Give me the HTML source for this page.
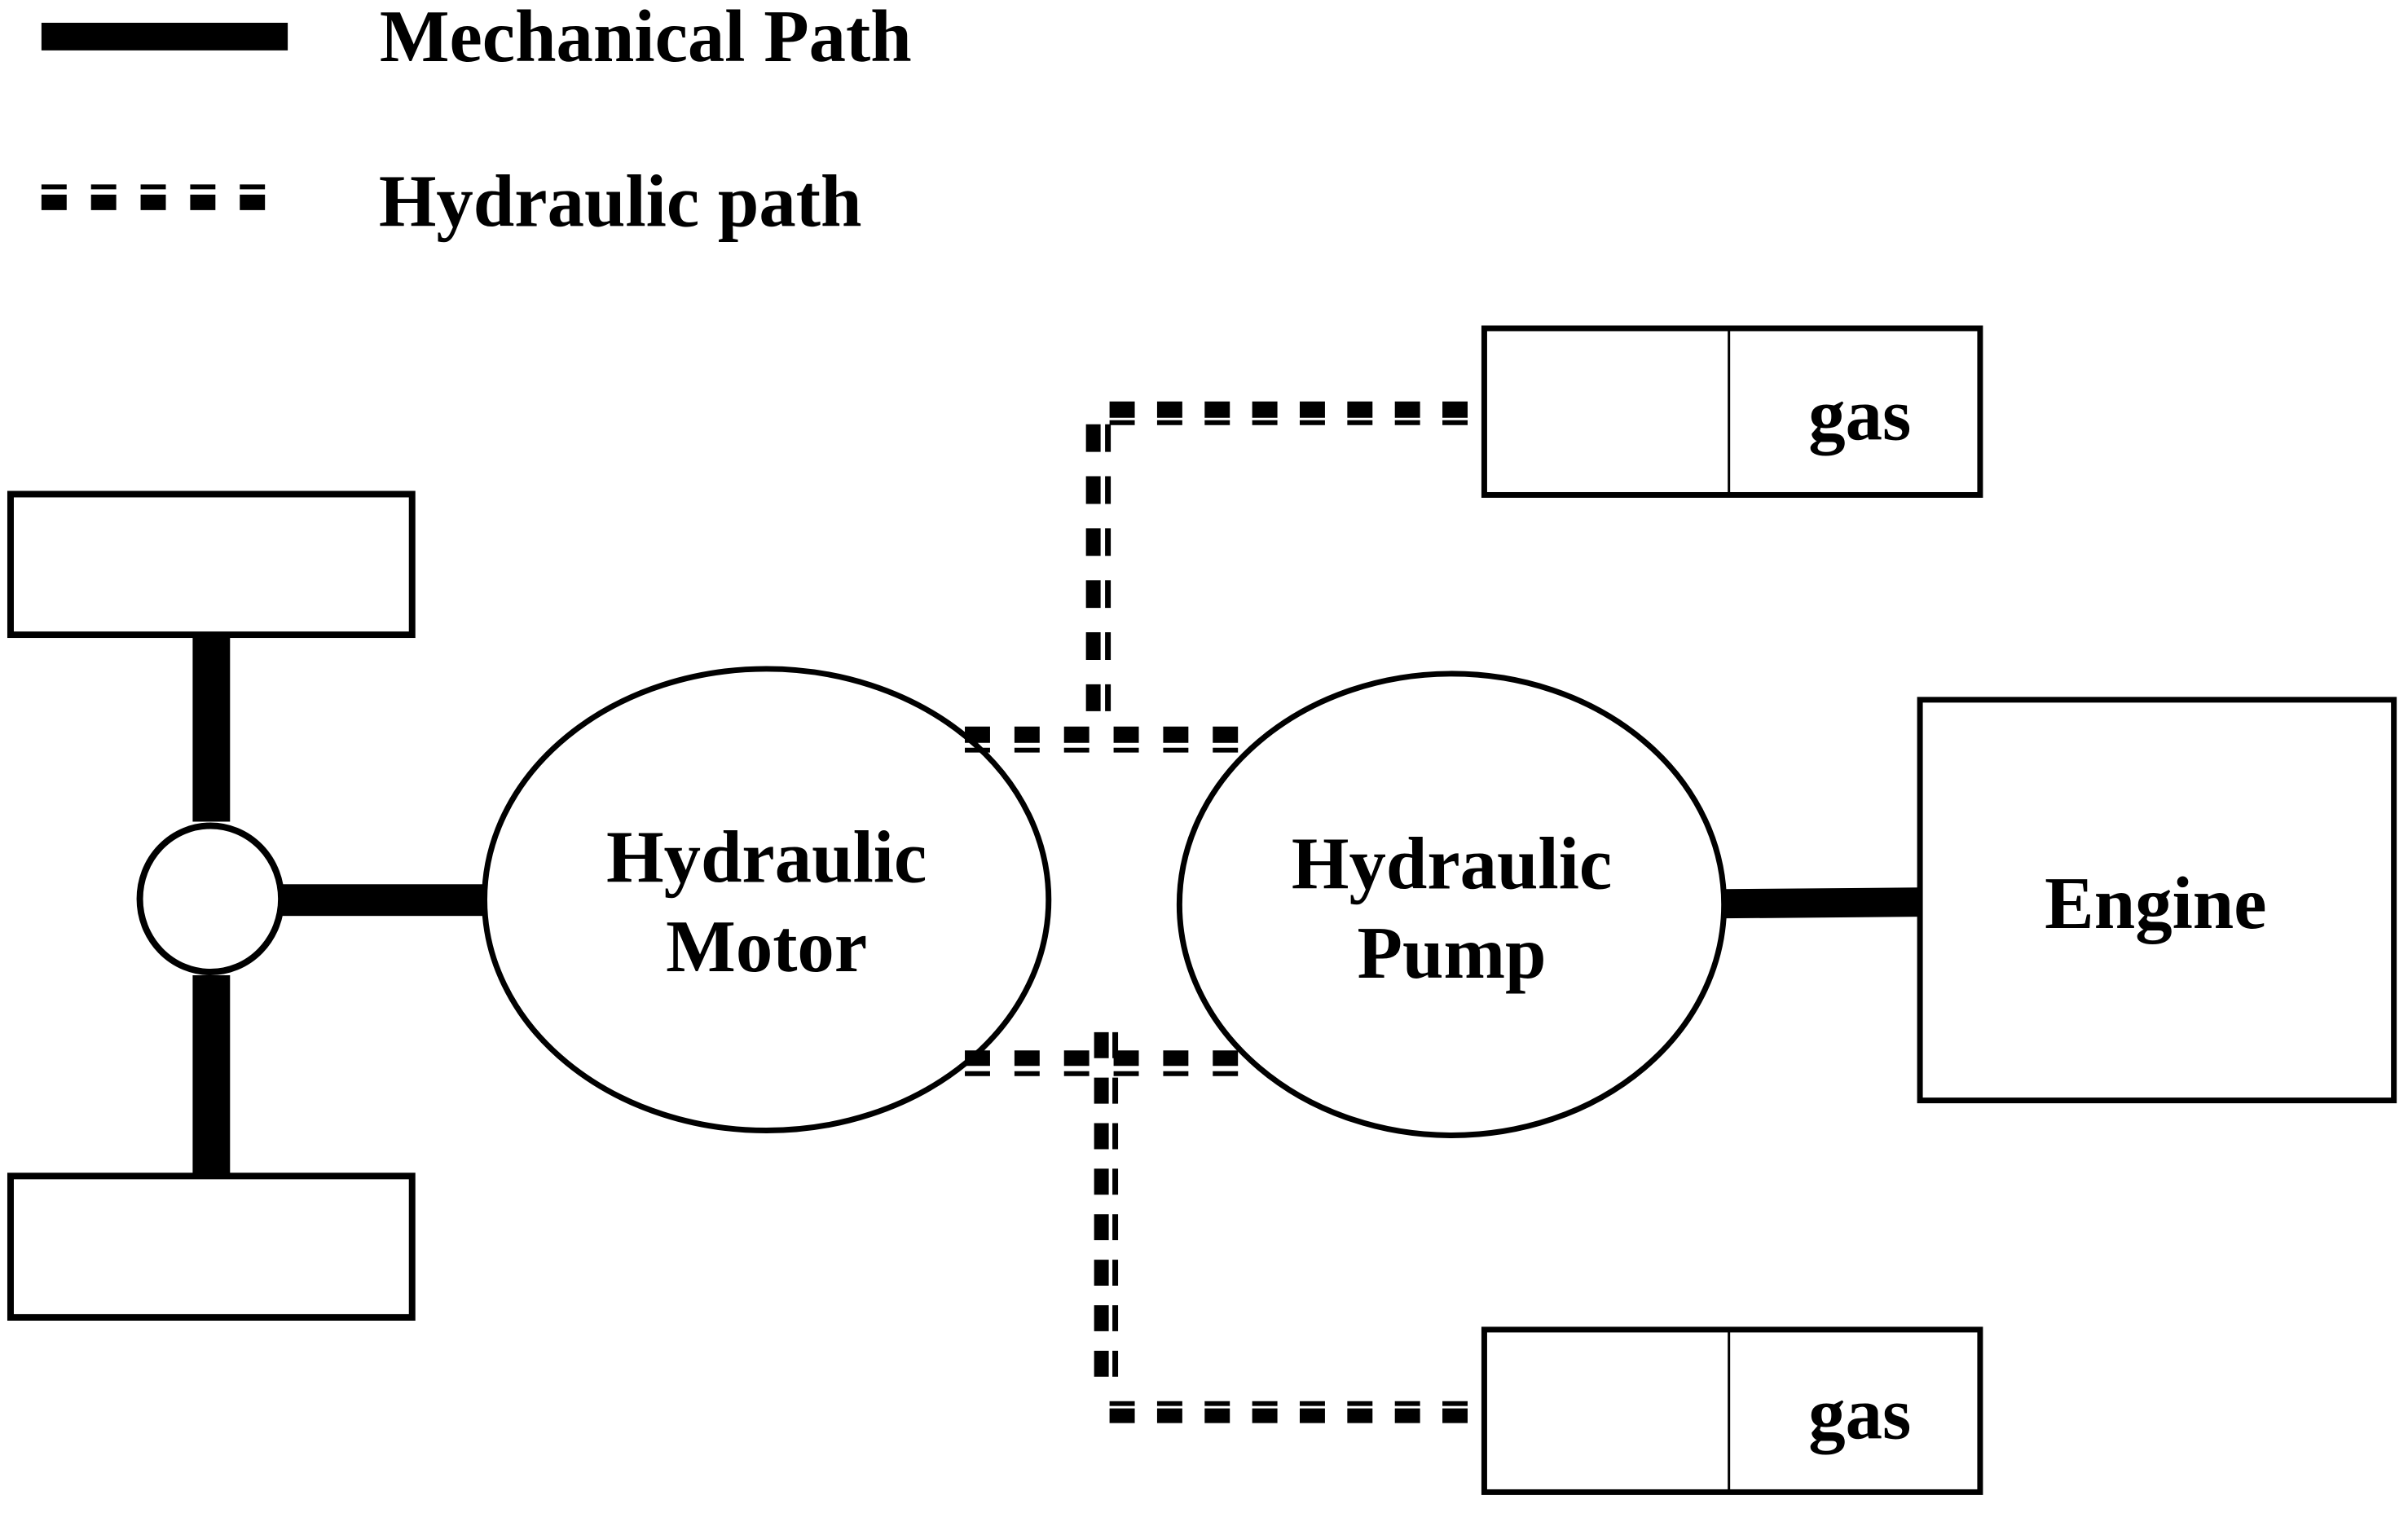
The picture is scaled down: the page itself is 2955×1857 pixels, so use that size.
<!DOCTYPE html>
<html><head><meta charset="utf-8"><style>
html,body{margin:0;padding:0;background:#fff;}
svg{display:block;}
text{font-family:"Liberation Serif",serif;font-weight:bold;font-size:91px;fill:#000;}
</style></head><body>
<svg width="2955" height="1857" viewBox="0 0 2955 1857" xmlns="http://www.w3.org/2000/svg">
<g transform="scale(0.9975)">
<!-- legend -->
<rect x="51" y="28" width="303" height="34" fill="#000"/>
<text x="467" y="75">Mechanical Path</text>
<line x1="51" y1="230" x2="326" y2="230" stroke="#000" stroke-width="6" stroke-dasharray="31 30"/>
<line x1="51" y1="249" x2="326" y2="249" stroke="#000" stroke-width="19" stroke-dasharray="31 30"/>
<text x="466" y="278">Hydraulic path</text>

<!-- wheels -->
<rect x="13" y="608" width="494" height="173" fill="none" stroke="#000" stroke-width="8"/>
<rect x="13" y="1447" width="494" height="174" fill="none" stroke="#000" stroke-width="8"/>
<rect x="237" y="781" width="46" height="230" fill="#000"/>
<rect x="237" y="1200" width="46" height="247" fill="#000"/>
<rect x="345" y="1088" width="252" height="39" fill="#000"/>
<ellipse cx="259" cy="1106" rx="87" ry="90" fill="#fff" stroke="#000" stroke-width="8"/>

<!-- motor & pump -->
<ellipse cx="943" cy="1107" rx="347" ry="284" fill="none" stroke="#000" stroke-width="7"/>
<text x="943" y="1085" text-anchor="middle">Hydraulic</text>
<text x="943" y="1195" text-anchor="middle">Motor</text>
<ellipse cx="1786" cy="1113" rx="335" ry="284" fill="none" stroke="#000" stroke-width="7"/>
<text x="1786" y="1093" text-anchor="middle">Hydraulic</text>
<text x="1786" y="1203" text-anchor="middle">Pump</text>

<!-- engine -->
<polygon points="2121,1094 2361,1092 2361,1128 2121,1130" fill="#000"/>
<rect x="2362" y="861" width="583" height="493" fill="none" stroke="#000" stroke-width="7"/>
<text x="2652" y="1142" text-anchor="middle">Engine</text>

<!-- gas boxes -->
<rect x="1826" y="404" width="610" height="205" fill="none" stroke="#000" stroke-width="7"/>
<line x1="2127" y1="404" x2="2127" y2="609" stroke="#000" stroke-width="3"/>
<text x="2288" y="541" text-anchor="middle">gas</text>
<rect x="1826" y="1636" width="610" height="200" fill="none" stroke="#000" stroke-width="7"/>
<line x1="2127" y1="1636" x2="2127" y2="1836" stroke="#000" stroke-width="3"/>
<text x="2288" y="1770" text-anchor="middle">gas</text>

<!-- hydraulic lines top -->
<line x1="1365" y1="504" x2="1832" y2="504" stroke="#000" stroke-width="20" stroke-dasharray="31 27.5"/>
<line x1="1365" y1="520" x2="1832" y2="520" stroke="#000" stroke-width="6" stroke-dasharray="31 27.5"/>
<line x1="1345" y1="522" x2="1345" y2="875" stroke="#000" stroke-width="18" stroke-dasharray="34 30"/>
<line x1="1363" y1="522" x2="1363" y2="875" stroke="#000" stroke-width="7" stroke-dasharray="34 30"/>
<line x1="1187" y1="904" x2="1527" y2="904" stroke="#000" stroke-width="20" stroke-dasharray="31 30"/>
<line x1="1187" y1="923" x2="1527" y2="923" stroke="#000" stroke-width="6" stroke-dasharray="31 30"/>

<!-- hydraulic lines bottom -->
<line x1="1187" y1="1302" x2="1527" y2="1302" stroke="#000" stroke-width="19" stroke-dasharray="31 30"/>
<line x1="1187" y1="1321" x2="1527" y2="1321" stroke="#000" stroke-width="6" stroke-dasharray="31 30"/>
<line x1="1355" y1="1270" x2="1355" y2="1711" stroke="#000" stroke-width="18" stroke-dasharray="32 24"/>
<line x1="1372" y1="1270" x2="1372" y2="1711" stroke="#000" stroke-width="7" stroke-dasharray="32 24"/>
<line x1="1365" y1="1727" x2="1832" y2="1727" stroke="#000" stroke-width="6" stroke-dasharray="31 27.5"/>
<line x1="1365" y1="1742" x2="1832" y2="1742" stroke="#000" stroke-width="18" stroke-dasharray="31 27.5"/>
</g>
</svg>
</body></html>
